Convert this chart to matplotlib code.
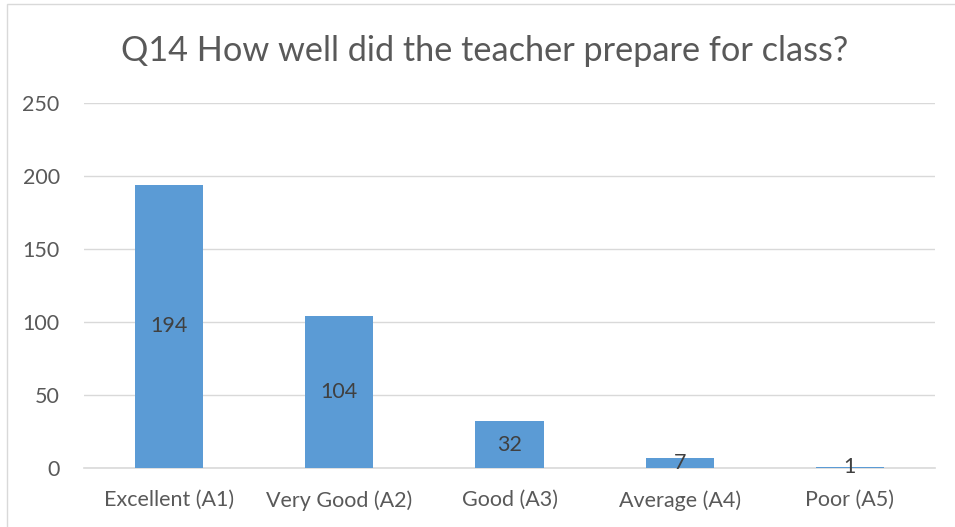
import matplotlib
matplotlib.use('Agg')
import matplotlib.pyplot as plt
from matplotlib.patches import Rectangle

categories = ['Excellent (A1)', 'Very Good (A2)', 'Good (A3)', 'Average (A4)', 'Poor (A5)']
counts = [194, 104, 32, 7, 1]
yticks = [0, 50, 100, 150, 200, 250]

plt.rcParams['font.family'] = ['Lato', 'DejaVu Sans']

W, H = 955, 527
fig = plt.figure(figsize=(W / 100, H / 100), dpi=100)
ax = fig.add_axes([84 / W, 1 - 468 / H, (935 - 84) / W, (468 - 103) / H])

x = range(len(categories))
ax.bar(x, counts, width=0.4, color='#5B9BD5', zorder=3)
for xi, v in zip(x, counts):
    ax.text(xi, v / 2, str(v), ha='center', va='center', fontsize=15.5,
            color='#404040', zorder=4)

ax.set_xlim(-0.5, len(categories) - 0.5)
ax.set_ylim(0, 250)
ax.set_yticks(yticks)
ax.set_xticks(list(x))
ax.set_xticklabels(categories)
ax.grid(axis='y', color='#D9D9D9', linewidth=1, zorder=0)
for s in ['top', 'right', 'left']:
    ax.spines[s].set_visible(False)
ax.spines['bottom'].set_color('#D9D9D9')
ax.spines['bottom'].set_linewidth(1.2)
ax.tick_params(length=0, labelsize=15.5, labelcolor='#595959')
ax.tick_params(axis='y', pad=17.5)
ax.tick_params(axis='x', pad=16)

fig.text(485 / W, 1 - 51 / H, 'Q14 How well did the teacher prepare for class?',
         ha='center', va='center', fontsize=24.7, color='#595959')

fig.patches.append(Rectangle((7 / W, -0.1), 1.1, 1 - 4 / H + 0.1, transform=fig.transFigure,
                             fill=False, edgecolor='#D9D9D9', linewidth=1))

fig.savefig('out.png', dpi=100)
